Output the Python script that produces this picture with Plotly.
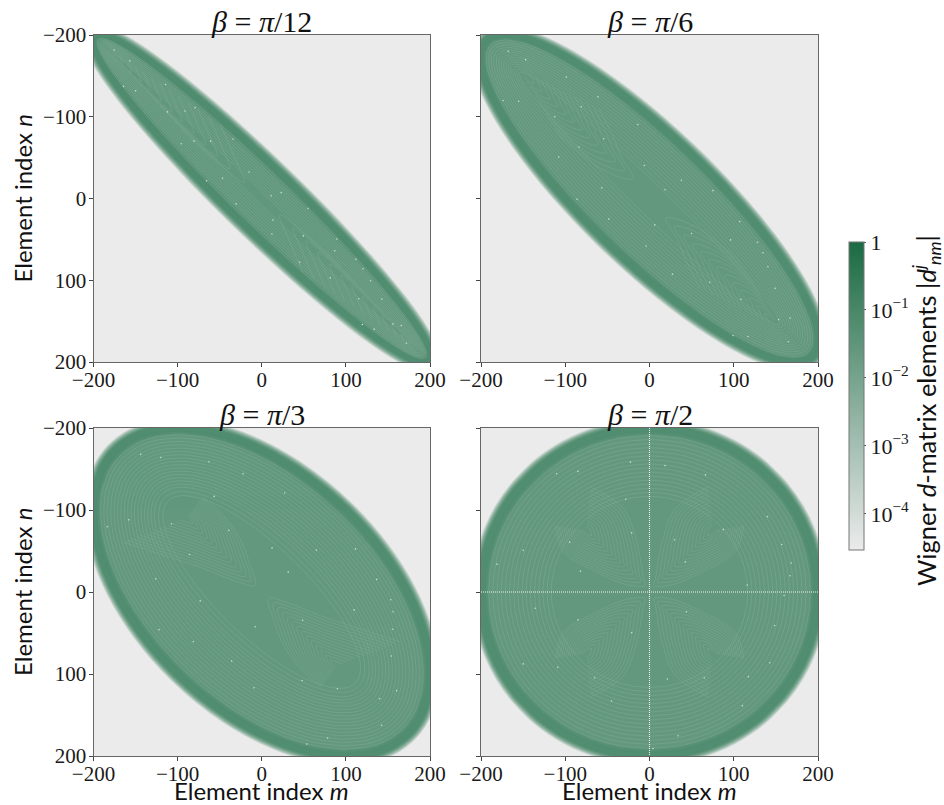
import plotly.graph_objects as go
from plotly.colors import sample_colorscale

# ---- axis ticks, titles ----
ticks = [-200, -100, 0, 100, 200]
titles = ["<i>β</i> = <i>π</i>/12", "<i>β</i> = <i>π</i>/6", "<i>β</i> = <i>π</i>/3", "<i>β</i> = <i>π</i>/2"]
cbar_vals = [-4, -3, -2, -1, 0]
cbar_text = ["10<sup>−4</sup>", "10<sup>−3</sup>", "10<sup>−2</sup>", "10<sup>−1</sup>", "1"]
log_floor = -4.53

# ---- outline of the non-zero region: row n and its right-hand limit m, per panel ----
rows_n = [-200, -197, -192, -185, -175, -165, -150, -125, -100, -75, -50, -25, 0,
          25, 50, 75, 100, 125, 150, 165, 175, 185, 192, 197, 200]
edge_p1 = [-193.2, -181.4, -171, -159, -143.9, -130.1, -110.6, -80.4, -51.7, -24.5, 1.8, 27.2, 51.8,
           75.6, 98.4, 120.5, 141.5, 161.2, 179.2, 188.7, 194.1, 198.4, 200, 199.2, 193.2]
edge_p2 = [-173.2, -153.3, -138.3, -122.2, -103.2, -86.4, -63.7, -30.3, 0, 27.7, 53.5, 77.5, 100,
           120.9, 140.1, 157.7, 173.2, 186.3, 196.1, 199.4, 200, 198.2, 194.3, 187.9, 173.2]
edge_p3 = [-100, -68.6, -47.5, -26.7, -3.7, 15.4, 39.6, 72.7, 100, 123.1, 142.7, 159.3, 173.2,
           184.3, 192.7, 198.1, 200, 197.7, 189.6, 180.4, 171.3, 158.3, 144.5, 128.4, 100]
edge_p4 = [0, 34.5, 56, 76, 96.8, 113, 132.3, 156.1, 173.2, 185.4, 193.6, 198.4, 200,
           198.4, 193.6, 185.4, 173.2, 156.1, 132.3, 113, 96.8, 76, 56, 34.5, 0]
edges = [edge_p1, edge_p2, edge_p3, edge_p4]
semi_axes = [(198.3, 26.1), (193.2, 51.8), (173.2, 100), (141.4, 141.4)]

# soft falloff outside the outline: stroke width and log10 magnitude
fade_widths = [19, 17.5, 16, 14.5, 13, 11.5, 10, 8.5, 7]
fade_levels = [-4.0, -3.4, -2.9, -2.5, -2.1, -1.8, -1.55, -1.35, -1.2]
# interior steps just inside the outline: extra inset and log10 magnitude
interior_steps = [(0, -1.2), (1.5, -1.32), (3, -1.45), (4.5, -1.58)]
fringe_level = -2.3
interior_inset = [1, 1.5, 2, 2.5]

# concentric fringes: inset from the outline (in index units)
rings = [
    [4, 6, 8, 10, 12, 14, 16, 18, 20, 22],
    [5, 7.5, 10, 12.5, 15, 17.5, 20, 22.5, 25, 27.5, 30, 33, 36, 39],
    [6, 9, 12, 15, 18, 21, 24, 27, 30, 33, 36, 39, 42, 45, 48, 51, 54, 58, 62],
    [6.5, 10, 13.5, 17, 20.5, 24, 27.5, 31, 34.5, 38, 41.5, 45, 48.5, 52, 55.5, 59],
]

# nested fringes: one curve (m, n), point it shrinks towards, and shrink factors
fringe_p1 = [([-70, -56, -46, -72, -100], [-105, -72, -45, -65, -90], (-185, -185),
              [1.18, 1.06, .95, .85, .75, .65, .56, .47, .38, .3, .22, .14])]
fringe_p2 = [([-60, -43, -33, -19, -35, -63, -86, -110], [-110, -75, -50, -24, -26, -40, -58, -80], (-154, -158),
              [1, .92, .84, .76, .69, .62, .55, .48, .41, .34, .27, .2, .13])]
fringe_p3 = [([-70, -46, -26, -14, -8, -30, -70, -117, -165], [-116, -94, -65, -33, -8, -13, -29, -45, -61], (-89, -90),
              [1, .93, .86, .79, .72, .65, .58, .51, .44, .37, .3, .23, .16, .09])]
fringe_p4 = [([-70, -31, -15, -7, -5, -27, -62, -102, -112], [-128, -102, -61, -16, -8, -9, -24, -49, -81], (-75, -75),
              [1, .93, .86, .79, .72, .65, .58, .51, .44, .37, .3, .23, .16, .09])]
fringes = [fringe_p1, fringe_p2, fringe_p3, fringe_p4]
mirrors = [[(1, 1), (-1, -1)], [(1, 1), (-1, -1)], [(1, 1), (-1, -1)], [(1, 1), (-1, -1), (1, -1), (-1, 1)]]

# pale specks, as fractions along the long and short axes of each region
speck_u = [-.82, -.71, -.64, -.55, -.48, -.41, -.33, -.27, -.18, -.12, -.06, .04, .1, .17, .24, .31, .38, .45, .52, .6, .67, .74, .81, .88,
           -.76, -.5, -.22, .14, .35, .58, .78, -.9, -.38, .02, .47, .69]
speck_v = [.22, -.35, .48, -.12, .61, -.55, .18, .74, -.42, .33, -.71, .58, -.25, .82, .07, -.63, .44, -.3, .66, -.14, .38, -.5, .2, -.1,
           -.52, .3, -.84, -.6, .76, .55, .05, .12, -.2, .28, .72, -.66]

# white seam lines through the centre of the pi/2 panel
seam_m = [-200, 200]
seam_zero = [0, 0]

colorscale = [[0, "#ebebeb"], [1, "#1a6b43"]]


def level_color(v):
    return sample_colorscale(colorscale, (v - log_floor) / (0 - log_floor))[0]


def outline(R):
    return R + [-v for v in R], rows_n + [-v for v in rows_n]


def inset(ms, ns, d, axes):
    au, av = axes
    out_m, out_n = [], []
    for m, n in zip(ms, ns):
        u, v = (m + n) / 2 * (1 - d / au), (m - n) / 2 * (1 - d / av)
        out_m.append(u + v)
        out_n.append(u - v)
    return out_m, out_n


fig = go.Figure()
dom_x = [[93.5 / 944, 430 / 944], [481 / 944, 818 / 944]] * 2
dom_y = [[1 - 362 / 805, 1 - 35 / 805]] * 2 + [[1 - 756 / 805, 1 - 428 / 805]] * 2
line_opts = dict(hoverinfo="skip", showlegend=False, mode="lines")

for i in range(4):
    xa, ya = ("x", "y") if i == 0 else (f"x{i+1}", f"y{i+1}")
    fig.add_trace(go.Heatmap(z=[[log_floor, log_floor], [log_floor, log_floor]], x=[-200, 200], y=[-200, 200],
                             coloraxis="coloraxis", xaxis=xa, yaxis=ya, hoverinfo="skip"))
    pm, pn = outline(edges[i])
    for w, lv in zip(fade_widths, fade_levels):
        fig.add_trace(go.Scatter(x=pm, y=pn, xaxis=xa, yaxis=ya,
                                 line=dict(color=level_color(lv), width=w, shape="spline", smoothing=0.6), **line_opts))
    for extra, lv in interior_steps:
        fm, fn = inset(pm, pn, interior_inset[i] + extra, semi_axes[i])
        fig.add_trace(go.Scatter(x=fm, y=fn, xaxis=xa, yaxis=ya, fill="toself", fillcolor=level_color(lv),
                                 line=dict(color=level_color(lv), width=0.5, shape="spline", smoothing=0.6), **line_opts))
    # concentric fringes
    xs, ys = [], []
    for d in rings[i]:
        rm, rn = inset(pm, pn, d, semi_axes[i])
        xs += rm + [None]
        ys += rn + [None]
    fig.add_trace(go.Scatter(x=xs, y=ys, xaxis=xa, yaxis=ya, connectgaps=False, opacity=0.6,
                             line=dict(color=level_color(fringe_level), width=0.8, shape="spline", smoothing=0.6), **line_opts))
    # nested fringes
    xs, ys = [], []
    for bm, bn, anchor, scales in fringes[i]:
        for k in scales:
            for sx, sy in mirrors[i]:
                xs += [sx * (anchor[0] + k * (v - anchor[0])) for v in bm] + [None]
                ys += [sy * (anchor[1] + k * (v - anchor[1])) for v in bn] + [None]
    fig.add_trace(go.Scatter(x=xs, y=ys, xaxis=xa, yaxis=ya, connectgaps=False, opacity=0.55,
                             line=dict(color=level_color(fringe_level), width=0.8, shape="spline"), **line_opts))
    # specks
    au, av = semi_axes[i]
    sm = [a * au + b * av for a, b in zip(speck_u, speck_v)]
    sn = [a * au - b * av for a, b in zip(speck_u, speck_v)]
    fig.add_trace(go.Scatter(x=sm, y=sn, xaxis=xa, yaxis=ya, mode="markers", hoverinfo="skip", showlegend=False,
                             marker=dict(color="#c4ddcf", size=1.6)))

seam_opts = dict(line=dict(color="#f0f5f2", width=1.1, dash="1px,1px"), **line_opts)
fig.add_trace(go.Scatter(x=seam_m, y=seam_zero, xaxis="x4", yaxis="y4", **seam_opts))
fig.add_trace(go.Scatter(x=seam_zero, y=seam_m, xaxis="x4", yaxis="y4", **seam_opts))

tick_font = dict(family="Liberation Serif", size=21, color="#1a1a1a")
axis_common = dict(range=[-200, 200], tickvals=ticks, showgrid=False, zeroline=False, showline=True, mirror=True,
                   linecolor="#666666", linewidth=1, ticks="outside", ticklen=4, tickcolor="#444444", tickwidth=1,
                   tickfont=tick_font)
label_font = dict(family="Lato", size=24, color="#111111")
for i in range(4):
    sfx = "" if i == 0 else str(i + 1)
    fig.layout["xaxis" + sfx] = dict(domain=dom_x[i], anchor="y" + sfx, ticklabelstandoff=-5, **axis_common)
    fig.layout["yaxis" + sfx] = dict(domain=dom_y[i], anchor="x" + sfx, ticklabelstandoff=-2,
                                     **{**axis_common, "range": [200, -200]}, showticklabels=i % 2 == 0)
    if i >= 2:
        fig.add_annotation(x=sum(dom_x[i]) / 2, y=0, xref="paper", yref="paper", xanchor="center",
                           yanchor="bottom", showarrow=False, font=label_font, text="Element index <i>m</i>",
                           borderpad=0, borderwidth=0)
    if i % 2 == 0:
        fig.add_annotation(x=22 / 944, y=sum(dom_y[i]) / 2, xref="paper", yref="paper", xanchor="center",
                           yanchor="middle", textangle=-90, showarrow=False, font=label_font,
                           text="Element index <i>n</i>")
    fig.add_annotation(x=sum(dom_x[i]) / 2, y=dom_y[i][1], xref="paper", yref="paper", xanchor="center", yanchor="bottom",
                       yshift=-5, text=titles[i], showarrow=False,
                       font=dict(family="Liberation Serif", size=30, color="#111111"))

fig.add_annotation(x=926 / 944, y=1 - 411 / 805, xref="paper", yref="paper", xanchor="center", yanchor="middle",
                   textangle=-90, showarrow=False, font=dict(family="Lato", size=25.5, color="#111111"),
                   text="Wigner <i>d</i>-matrix elements |<i>d</i><sup><i>j</i></sup><sub><i>nm</i></sub>|")

fig.update_layout(
    width=944, height=805, margin=dict(l=0, r=0, t=0, b=0, autoexpand=False),
    paper_bgcolor="white", plot_bgcolor="#ebebeb",
    coloraxis=dict(cmin=log_floor, cmax=0, colorscale=colorscale,
                   colorbar=dict(x=849 / 944, xanchor="left", xref="paper", y=1 - 396 / 805, yanchor="middle",
                                 lenmode="pixels", len=308, thicknessmode="pixels", thickness=15,
                                 outlinecolor="#777777", outlinewidth=1, ticks="outside", ticklen=2, tickcolor="#555555",
                                 tickvals=cbar_vals, ticktext=cbar_text, xpad=0, ypad=0,
                                 tickfont=dict(family="Liberation Serif", size=22, color="#1a1a1a"))),
)
fig.write_html("out.html", post_script="document.body.style.margin='0';", config={"displayModeBar": False})
